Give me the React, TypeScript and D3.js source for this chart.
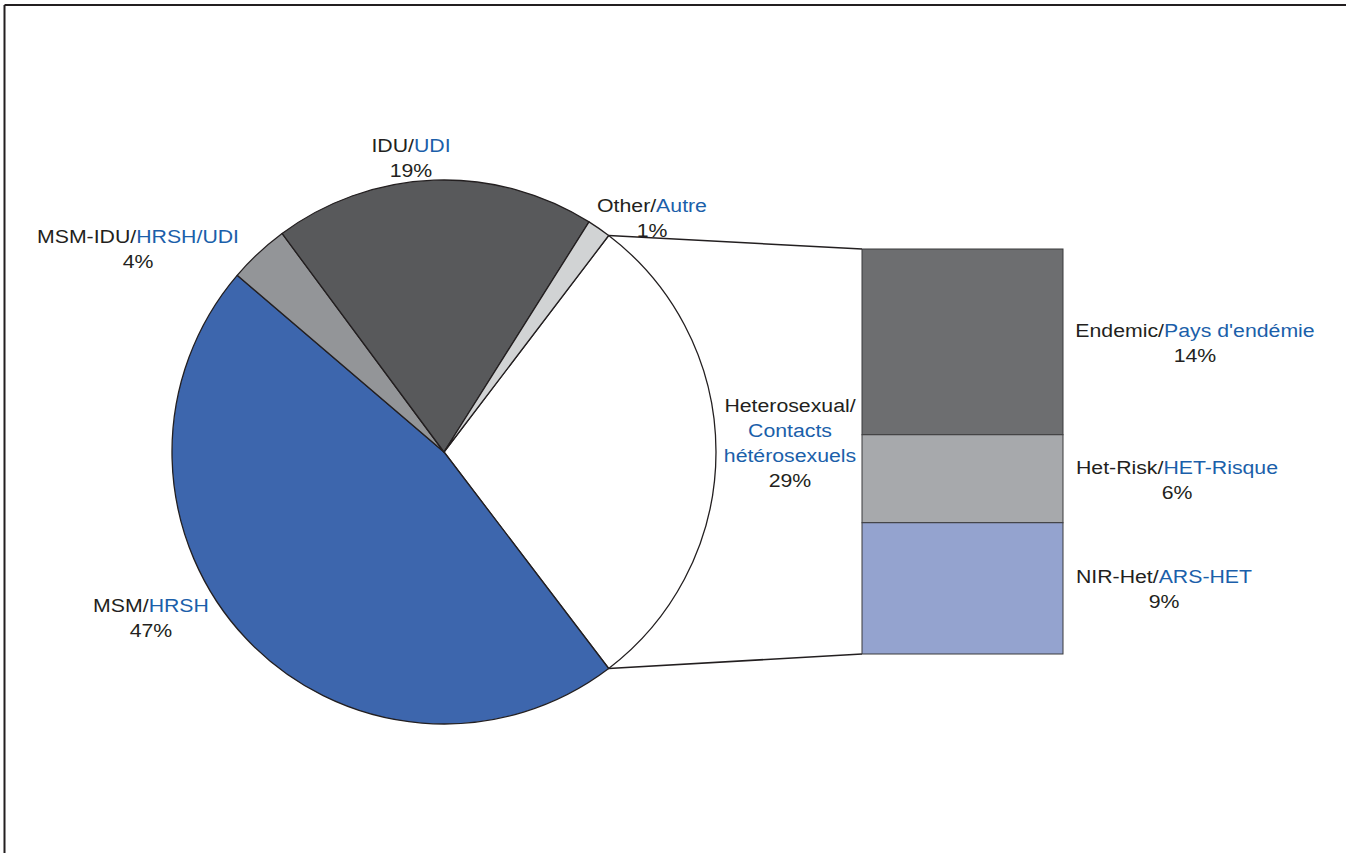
import * as d3 from "d3";

// pie slices, clockwise starting with the exploded one
const sliceNames = ["Heterosexual", "MSM", "MSM-IDU", "IDU", "Other"];
const sliceValues = [29.3, 46.6, 3.6, 19.1, 1.4];
const sliceColors = ["#ffffff", "#3d66ad", "#939598", "#58595b", "#d1d3d4"];
const sliceLabelEn = ["Heterosexual/", "MSM/", "MSM-IDU/", "IDU/", "Other/"];
const sliceLabelFr = [["Contacts", "hétérosexuels"], ["HRSH"], ["HRSH/UDI"], ["UDI"], ["Autre"]];
const slicePct = ["29%", "47%", "4%", "19%", "1%"];

// breakdown of the heterosexual slice
const barNames = ["Endemic", "Het-Risk", "NIR-Het"];
const barValues = [13.3, 6.3, 9.4];
const barColors = ["#6d6e70", "#a7a9ac", "#94a3cf"];
const barLabelFr = ["Pays d'endémie", "HET-Risque", "ARS-HET"];
const barPct = ["14%", "6%", "9%"];

// text placement (layout only)
const sliceLabelPos = [
  [790, 412],
  [151, 612],
  [138, 243],
  [411, 152],
  [652, 212],
];
const barLabelX = [1195, 1177, 1164];

const W = 1346;
const H = 853;
const cx = 444;
const cy = 452;
const R = 272;
const bar = { x0: 862, x1: 1063, y0: 249, y1: 654 };
const blue = "#1b5faa";
const ink = "#231f20";
const LH = 25;

const Label = ({ x, y, lines }: { x: number; y: number; lines: { en?: string; fr?: string }[] }) => (
  <g transform={`translate(${x},${y}) scale(1.12,1)`}>
    <text textAnchor="middle" fontSize={19} fontFamily="'Liberation Sans', Arial, Helvetica, sans-serif" fill={ink}>
      {lines.map((l, i) => (
        <tspan key={i} x={0} y={i * LH}>
          {l.en}
          {l.fr && <tspan fill={blue}>{l.fr}</tspan>}
        </tspan>
      ))}
    </text>
  </g>
);

export default function App() {
  const total = d3.sum(sliceValues);
  const hetAngle = (sliceValues[0] / total) * 2 * Math.PI;
  const start = Math.PI / 2 - hetAngle / 2;
  const pie = d3
    .pie<number>()
    .sort(null)
    .value(d => d)
    .startAngle(start)
    .endAngle(start + 2 * Math.PI);
  const arcs = pie(sliceValues);
  const arc = d3.arc<d3.PieArcDatum<number>>().innerRadius(0).outerRadius(R);

  const het = arcs[0];
  const pt = (a: number) => [cx + R * Math.sin(a), cy - R * Math.cos(a)];
  const [ax, ay] = pt(het.startAngle);
  const [bx, by] = pt(het.endAngle);

  const y = d3.scaleLinear().domain([0, d3.sum(barValues)]).range([bar.y0, bar.y1]);
  const cum = barValues.map((_, i) => d3.sum(barValues.slice(0, i)));

  // label vertical centre of each bar segment
  const barLabelY = barValues.map((v, i) => (y(cum[i]) + y(cum[i] + v)) / 2);

  return (
    <svg width={W} height={H} style={{ position: "absolute", left: 0, top: 0, display: "block", background: "#fff" }}>
      {/* frame */}
      <line x1={4.5} y1={5} x2={W} y2={5} stroke={ink} strokeWidth={2} />
      <line x1={4.5} y1={5} x2={4.5} y2={H} stroke={ink} strokeWidth={2} />

      {/* connectors */}
      <line x1={ax} y1={ay} x2={bar.x0} y2={bar.y0} stroke={ink} strokeWidth={1.6} />
      <line x1={bx} y1={by} x2={bar.x0} y2={bar.y1} stroke={ink} strokeWidth={1.6} />

      {/* pie */}
      <g transform={`translate(${cx},${cy})`}>
        {arcs.map((a, i) => (
          <path key={sliceNames[i]} d={arc(a) ?? ""} fill={sliceColors[i]} stroke={ink} strokeWidth={1.3} strokeLinejoin="round" />
        ))}
      </g>

      {/* stacked bar */}
      {barValues.map((v, i) => (
        <rect
          key={barNames[i]}
          x={bar.x0}
          y={y(cum[i])}
          width={bar.x1 - bar.x0}
          height={y(cum[i] + v) - y(cum[i])}
          fill={barColors[i]}
          stroke="#3a3a3c"
          strokeWidth={1}
        />
      ))}

      {/* pie labels */}
      {sliceNames.map((n, i) => {
        const fr = sliceLabelFr[i];
        const lines =
          fr.length > 1
            ? [{ en: sliceLabelEn[i] }, ...fr.map(f => ({ fr: f })), { en: slicePct[i] }]
            : [{ en: sliceLabelEn[i], fr: fr[0] }, { en: slicePct[i] }];
        return <Label key={n} x={sliceLabelPos[i][0]} y={sliceLabelPos[i][1]} lines={lines} />;
      })}

      {/* bar labels */}
      {barNames.map((n, i) => (
        <Label
          key={n}
          x={barLabelX[i]}
          y={barLabelY[i] - 5}
          lines={[{ en: n + "/", fr: barLabelFr[i] }, { en: barPct[i] }]}
        />
      ))}
    </svg>
  );
}
